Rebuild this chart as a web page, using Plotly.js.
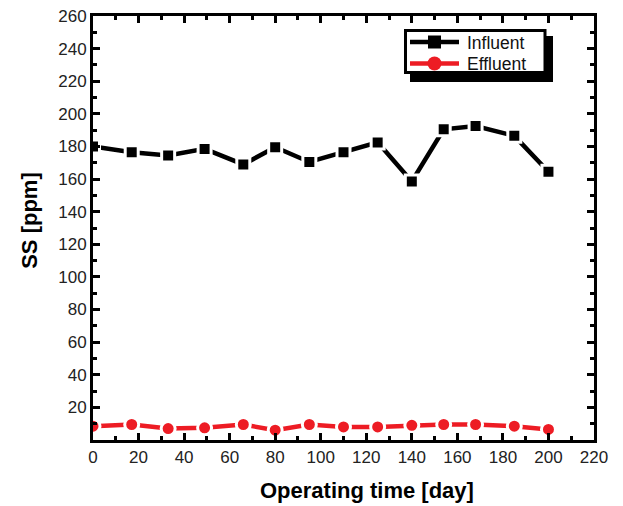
<!DOCTYPE html>
<html>
<head>
<meta charset="utf-8">
<script src="https://cdn.plot.ly/plotly-3.0.1.min.js"></script>
<style>html,body{margin:0;padding:0;background:#fff;}#chart{width:623px;height:506px;}</style>
</head>
<body>
<div id="chart"></div>
<script>
const days = [0, 17, 33, 49, 66, 80, 95, 110, 125, 140, 154, 168, 185, 200];
const influent = [180, 176.5, 174.5, 178.5, 169, 179.5, 170.5, 176.5, 182.5, 158.5, 190.5, 192.5, 186.5, 164.5];
const effluent = [8.5, 9.5, 7, 7.5, 9.5, 6, 9.5, 8, 8, 9, 9.5, 9.5, 8.5, 6.5];
const xTicks = [0, 20, 40, 60, 80, 100, 120, 140, 160, 180, 200, 220];
const yTicks = [20, 40, 60, 80, 100, 120, 140, 160, 180, 200, 220, 240, 260];
const seriesNames = ['Influent', 'Effluent'];
const xTitle = 'Operating time [day]';
const yTitle = 'SS [ppm]';

const FONT = 'Liberation Sans, Arial, sans-serif';
const W = 623, H = 506, M = {l: 93, r: 29, t: 16, b: 66};
const PW = W - M.l - M.r, PH = H - M.t - M.b;
const px2x = function (px) { return (px - M.l) / PW; };
const px2y = function (py) { return 1 - (py - M.t) / PH; };

const traces = [
  {x: days, y: influent, name: seriesNames[0], type: 'scatter', mode: 'lines+markers',
   line: {color: '#000000', width: 4.5},
   marker: {symbol: 'square', size: 13, color: '#000000', line: {color: '#ffffff', width: 3}}},
  {x: days, y: effluent, name: seriesNames[1], type: 'scatter', mode: 'lines+markers',
   line: {color: '#ED1C24', width: 4.5},
   marker: {symbol: 'circle', size: 14, color: '#ED1C24', line: {color: '#ffffff', width: 3}}}
];

const axisCommon = {
  showline: true, linecolor: '#000', linewidth: 3, mirror: 'allticks',
  ticks: 'inside', ticklen: 7, tickwidth: 3, tickcolor: '#000',
  showgrid: false, zeroline: false,
  tickfont: {family: FONT, size: 17, color: '#222'}
};

const layout = {
  width: W, height: H,
  margin: M,
  paper_bgcolor: '#fff', plot_bgcolor: '#fff',
  showlegend: true,
  legend: {x: px2x(404), y: px2y(29), xanchor: 'left', yanchor: 'top',
           bgcolor: 'rgba(0,0,0,0)', borderwidth: 0,
           font: {family: FONT, size: 17.5, color: '#111'},
           tracegroupgap: 0, itemwidth: 30},
  xaxis: Object.assign({}, axisCommon, {
    range: [0, 220], tickvals: xTicks, ticktext: xTicks.map(String),
    minor: {dtick: 10, tick0: 0, ticks: 'inside', ticklen: 4, tickwidth: 3, tickcolor: '#000'}
  }),
  yaxis: Object.assign({}, axisCommon, {
    range: [0, 260], tickvals: yTicks, ticktext: yTicks.map(String),
    minor: {dtick: 10, tick0: 0, ticks: 'inside', ticklen: 4, tickwidth: 3, tickcolor: '#000'}
  }),
  annotations: [
    {text: '<b>' + xTitle + '</b>', xref: 'paper', yref: 'paper', x: 0.547, y: -0.118,
     xanchor: 'center', yanchor: 'middle', showarrow: false,
     font: {family: FONT, size: 22, color: '#000'}},
    {text: '<b>' + yTitle + '</b>', xref: 'paper', yref: 'paper', x: -0.126, y: 0.519,
     xanchor: 'center', yanchor: 'middle', showarrow: false, textangle: -90,
     font: {family: FONT, size: 22, color: '#000'}}
  ],
  shapes: [
    // legend drop shadow
    {type: 'rect', xref: 'paper', yref: 'paper', layer: 'above',
     x0: px2x(410), x1: px2x(553), y0: px2y(82), y1: px2y(36),
     fillcolor: '#000', line: {width: 0}},
    // legend frame
    {type: 'rect', xref: 'paper', yref: 'paper', layer: 'above',
     x0: px2x(405.5), x1: px2x(545), y0: px2y(72.5), y1: px2y(30.5),
     fillcolor: '#fff', line: {color: '#000', width: 3}}
  ]
};

Plotly.newPlot('chart', traces, layout, {displayModeBar: false, staticPlot: true}).then(function (gd) {
  // fine-tune legend entries to the reference look (longer sample lines, tighter rows)
  gd.querySelectorAll('.legend [clip-path]').forEach(function (el) { el.removeAttribute('clip-path'); });
  const rowY = [42, 63.5];
  const items = gd.querySelectorAll('.legend .traces');
  items.forEach(function (g, i) {
    const m = g.getCTM();
    g.setAttribute('transform', (g.getAttribute('transform') || '') + ' translate(0,' + (rowY[i] - m.f) + ')');
    const e = m.e;
    const ln = g.querySelector('.legendlines path');
    if (ln) ln.setAttribute('d', 'M' + (410 - e) + ',0H' + (459 - e));
    const pts = g.querySelector('.legendpoints');
    if (pts) {
      pts.querySelectorAll('path').forEach(function (p) { p.style.strokeWidth = '0px'; });
      const b = pts.getBoundingClientRect();
      const cx = b.left + b.width / 2;
      pts.setAttribute('transform', 'translate(' + (434.5 - cx) + ',0)');
    }
    const tx = g.querySelector('text.legendtext');
    if (tx) tx.setAttribute('x', 467 - e);
  });
});
</script>
</body>
</html>
